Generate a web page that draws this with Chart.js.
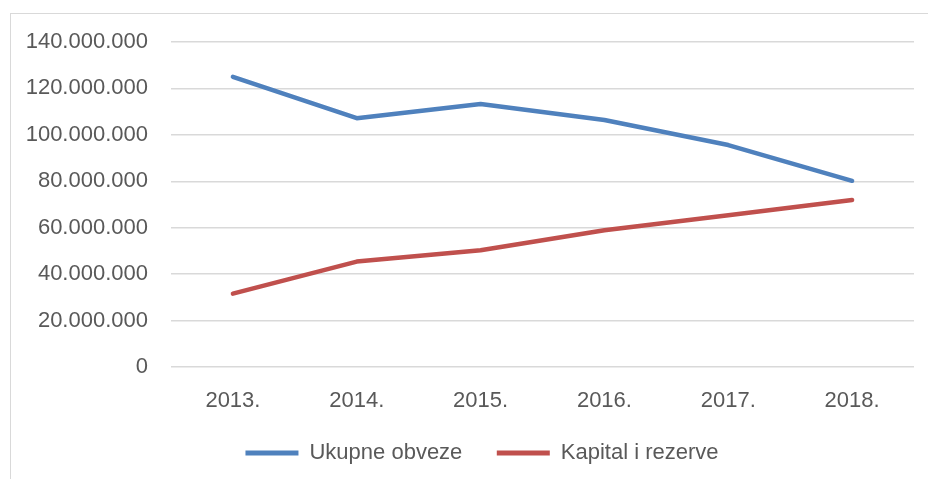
<!DOCTYPE html>
<html>
<head>
<meta charset="utf-8">
<script src="https://cdn.jsdelivr.net/npm/chart.js@4"></script>
<style>
  html, body { margin: 0; padding: 0; background: #fff; overflow: hidden; }
  #wrap { position: relative; width: 928px; height: 479px; overflow: hidden; }
  #frame { position: absolute; left: 10px; top: 13px; width: 940px; height: 500px; border: 1px solid #d9d9d9; box-sizing: border-box; }
  canvas { position: absolute; left: 0; top: 0; }
</style>
</head>
<body>
<div id="wrap">
  <div id="frame"></div>
  <canvas id="c" width="964" height="479"></canvas>
</div>
<script>
const categories = ["2013.", "2014.", "2015.", "2016.", "2017.", "2018."];
const ukupneObveze = [125000000, 107200000, 113300000, 106400000, 95600000, 80200000];
const kapitalIRezerve = [31600000, 45400000, 50300000, 58900000, 65400000, 71900000];
const yTickValues = [0, 20000000, 40000000, 60000000, 80000000, 100000000, 120000000, 140000000];

const FONT = "'Liberation Sans', Arial, sans-serif";
const TEXT = '#595959';
const FS = 22;

function fmt(v) {
  return v.toString().replace(/\B(?=(\d{3})+(?!\d))/g, '.');
}

new Chart(document.getElementById('c'), {
  type: 'line',
  data: {
    labels: categories,
    datasets: [
      { label: 'Ukupne obveze', data: ukupneObveze, borderColor: '#4F81BD', backgroundColor: '#4F81BD',
        borderWidth: 4.5, pointRadius: 0, tension: 0, borderCapStyle: 'round', borderJoinStyle: 'round' },
      { label: 'Kapital i rezerve', data: kapitalIRezerve, borderColor: '#C0504D', backgroundColor: '#C0504D',
        borderWidth: 4.5, pointRadius: 0, tension: 0, borderCapStyle: 'round', borderJoinStyle: 'round' }
    ]
  },
  options: {
    responsive: false,
    animation: false,
    devicePixelRatio: 1,
    layout: { padding: { top: 42, right: 0, bottom: 5, left: 0 } },
    plugins: {
      tooltip: { enabled: false },
      legend: {
        position: 'bottom',
        labels: {
          boxWidth: 53, boxHeight: 5,
          color: TEXT,
          font: { family: FONT, size: FS },
          padding: 10,
          generateLabels: (chart) => {
            const items = Chart.defaults.plugins.legend.labels.generateLabels(chart);
            items.forEach((it, i) => {
              it.lineWidth = 0;
              if (i < items.length - 1) it.text = it.text + '    ';
            });
            return items;
          }
        }
      }
    },
    scales: {
      x: {
        offset: true,
        afterFit: (s) => { s.height = 65; },
        grid: { display: false, drawTicks: false },
        border: { display: false },
        ticks: { color: TEXT, font: { family: FONT, size: FS }, padding: 21, maxRotation: 0 }
      },
      y: {
        min: 0, max: 140000000,
        afterBuildTicks: (s) => { s.ticks = yTickValues.map(v => ({ value: v })); },
        afterFit: (s) => { s.width = 171; },
        grid: { color: '#d9d9d9', lineWidth: 1.5, drawTicks: false },
        border: { display: false },
        ticks: { color: TEXT, font: { family: FONT, size: FS }, padding: 23, callback: (v) => fmt(v) }
      },
      yRight: {
        position: 'right',
        min: 0, max: 140000000,
        afterFit: (s) => { s.width = 50; },
        grid: { display: false, drawTicks: false },
        border: { display: false },
        ticks: { display: false }
      }
    }
  }
});
</script>
</body>
</html>
